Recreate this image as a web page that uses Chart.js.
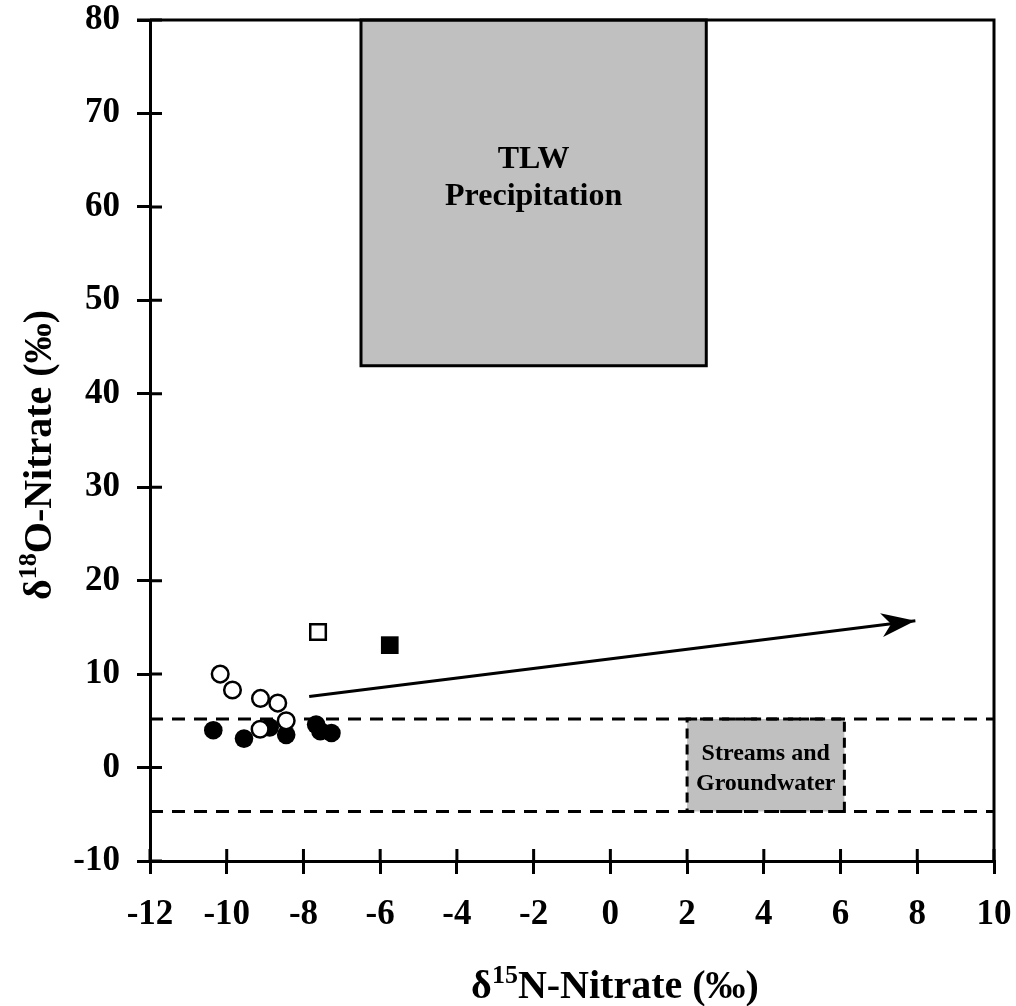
<!DOCTYPE html>
<html>
<head>
<meta charset="utf-8">
<script src="https://cdn.jsdelivr.net/npm/chart.js@4.4.1/dist/chart.umd.min.js"></script>
<style>
  html, body { margin: 0; padding: 0; background: #fff; }
  #wrap { width: 1016px; height: 1006px; }
</style>
</head>
<body>
<div id="wrap"><canvas id="chart" width="1016" height="1006"></canvas></div>
<script>
// d15N / d18O nitrate values
var openCircleX = [-10.17, -9.85, -9.12, -8.67, -8.45, -9.13];
var openCircleY = [10.0, 8.3, 7.4, 6.9, 5.0, 4.1];
var fillCircleX = [-10.35, -9.55, -8.88, -8.45, -7.67, -7.56, -7.27];
var fillCircleY = [4.0, 3.1, 4.3, 3.5, 4.6, 3.9, 3.7];
var openSquare = [-7.62, 14.5];
var fillSquare = [-5.75, 13.1];

// arrow: [x, y] start and end
var arrowFrom = [-7.85, 7.6];
var arrowTo = [7.95, 15.7];

// source regions: [xmin, xmax, ymin, ymax]
var tlwBox = [-6.5, 2.5, 43, 80];
var streamBox = [2.0, 6.1, -4.7, 5.2];
var dashedY = [5.2, -4.7];

var xRange = [-12, 10, 2];
var yRange = [-10, 80, 10];

var FONT = '"Liberation Serif", "Times New Roman", serif';

function pts(xs, ys) {
    return xs.map(function (x, i) { return { x: x, y: ys[i] }; });
}

function hline(y) {
    return {
        type: 'line',
        data: [{ x: xRange[0], y: y }, { x: xRange[1], y: y }],
        borderColor: '#000',
        borderWidth: 3,
        borderDash: [13, 9],
        pointRadius: 0,
        order: 5
    };
}

// boxes, inner tick halves, frame, arrow head, axis titles
var extras = {
    id: 'extras',
    beforeDatasetsDraw: function (chart) {
        var ctx = chart.ctx, xs = chart.scales.x, ys = chart.scales.y;
        var box = function (b, dash) {
            var l = xs.getPixelForValue(b[0]), r = xs.getPixelForValue(b[1]);
            var t = ys.getPixelForValue(b[3]), btm = ys.getPixelForValue(b[2]);
            ctx.fillStyle = '#c0c0c0';
            ctx.fillRect(l, t, r - l, btm - t);
            ctx.strokeStyle = '#000';
            ctx.lineWidth = 3;
            ctx.setLineDash(dash);
            ctx.strokeRect(l, t, r - l, btm - t);
            ctx.setLineDash([]);
            return { l: l, r: r, t: t, b: btm };
        };
        ctx.save();
        var a = box(tlwBox, []);
        ctx.fillStyle = '#000';
        ctx.textAlign = 'center';
        ctx.textBaseline = 'alphabetic';
        ctx.font = 'bold 32px ' + FONT;
        var cx = (a.l + a.r) / 2;
        ctx.fillText('TLW', cx, 168);
        ctx.fillText('Precipitation', cx, 205);

        var s = box(streamBox, [10, 6]);
        ctx.fillStyle = '#000';
        ctx.font = 'bold 24px ' + FONT;
        var sx = (s.l + s.r) / 2;
        ctx.fillText('Streams and', sx, 760);
        ctx.fillText('Groundwater', sx, 790);
        ctx.restore();
    },
    afterDatasetsDraw: function (chart) {
        var ctx = chart.ctx;
        var meta = chart.getDatasetMeta(0);
        var p0 = meta.data[0], p1 = meta.data[1];
        var dx = p1.x - p0.x, dy = p1.y - p0.y;
        var len = Math.sqrt(dx * dx + dy * dy);
        var ux = dx / len, uy = dy / len, nx = -uy, ny = ux;
        var L = 34, W = 12;
        ctx.save();
        ctx.fillStyle = '#000';
        ctx.beginPath();
        ctx.moveTo(p1.x, p1.y);
        ctx.lineTo(p1.x - L * ux + W * nx, p1.y - L * uy + W * ny);
        ctx.lineTo(p1.x - 0.72 * L * ux, p1.y - 0.72 * L * uy);
        ctx.lineTo(p1.x - L * ux - W * nx, p1.y - L * uy - W * ny);
        ctx.closePath();
        ctx.fill();
        ctx.restore();
    },
    afterDraw: function (chart) {
        var ctx = chart.ctx, area = chart.chartArea;
        var xs = chart.scales.x, ys = chart.scales.y;
        ctx.save();
        ctx.strokeStyle = '#000';
        ctx.lineWidth = 3;
        ctx.beginPath();
        xs.ticks.forEach(function (t) {
            var px = xs.getPixelForValue(t.value);
            ctx.moveTo(px, area.bottom);
            ctx.lineTo(px, area.bottom - 12);
        });
        ys.ticks.forEach(function (t) {
            var py = ys.getPixelForValue(t.value);
            ctx.moveTo(area.left, py);
            ctx.lineTo(area.left + 12, py);
        });
        ctx.stroke();
        ctx.beginPath();
        ctx.moveTo(area.left - 13, area.top);
        ctx.lineTo(area.right, area.top);
        ctx.lineTo(area.right, area.bottom);
        ctx.stroke();

        // axis titles with superscripts
        var title = function (parts, x, y, rot) {
            ctx.save();
            ctx.translate(x, y);
            ctx.rotate(rot);
            ctx.fillStyle = '#000';
            ctx.textBaseline = 'alphabetic';
            var widths = parts.map(function (p) {
                ctx.font = 'bold ' + p[1] + 'px ' + FONT;
                return ctx.measureText(p[0]).width;
            });
            var total = widths.reduce(function (a, b) { return a + b; }, 0);
            var cur = -total / 2;
            parts.forEach(function (p, i) {
                ctx.font = 'bold ' + p[1] + 'px ' + FONT;
                ctx.textAlign = 'left';
                ctx.fillText(p[0], cur, p[2]);
                cur += widths[i];
            });
            ctx.restore();
        };
        title([['\u03b4', 40, 13], ['15', 26, -2], ['N-Nitrate (\u2030)', 40, 13]], 615, 985, 0);
        title([['\u03b4', 40, 13], ['18', 26, -2], ['O-Nitrate (\u2030)', 40, 13]], 38, 455, -Math.PI / 2);
        ctx.restore();
    }
};

new Chart(document.getElementById('chart'), {
    type: 'scatter',
    data: {
        datasets: [
            {
                type: 'line',
                data: [{ x: arrowFrom[0], y: arrowFrom[1] }, { x: arrowTo[0], y: arrowTo[1] }],
                borderColor: '#000',
                borderWidth: 3,
                pointRadius: 0,
                order: 4
            },
            {
                data: pts(openCircleX, openCircleY),
                pointStyle: 'circle',
                pointRadius: 8.3,
                backgroundColor: '#fff',
                borderColor: '#000',
                borderWidth: 2.5,
                order: 1
            },
            {
                data: pts(fillCircleX, fillCircleY),
                pointStyle: 'circle',
                pointRadius: 9.3,
                backgroundColor: '#000',
                borderColor: '#000',
                borderWidth: 0,
                order: 2
            },
            {
                data: [{ x: openSquare[0], y: openSquare[1] }],
                pointStyle: 'rect',
                pointRadius: 11,
                backgroundColor: '#fff',
                borderColor: '#000',
                borderWidth: 2.5,
                order: 1
            },
            {
                data: [{ x: fillSquare[0], y: fillSquare[1] }],
                pointStyle: 'rect',
                pointRadius: 12.5,
                backgroundColor: '#000',
                borderColor: '#000',
                borderWidth: 0,
                order: 1
            },
            hline(dashedY[0]),
            hline(dashedY[1])
        ]
    },
    options: {
        responsive: false,
        animation: false,
        events: [],
        layout: { padding: 0 },
        plugins: { legend: { display: false }, tooltip: { enabled: false } },
        scales: {
            x: {
                type: 'linear',
                min: xRange[0],
                max: xRange[1],
                afterFit: function (s) {
                    s.height = 145;
                    s.paddingLeft = 0;
                    s.paddingRight = 22;
                },
                ticks: {
                    stepSize: xRange[2],
                    color: '#000',
                    padding: 20,
                    font: { family: FONT, size: 35, weight: 'bold' }
                },
                grid: { drawOnChartArea: false, tickLength: 13, color: '#000', lineWidth: 3 },
                border: { color: '#000', width: 3 }
            },
            y: {
                type: 'linear',
                min: yRange[0],
                max: yRange[1],
                afterFit: function (s) {
                    s.width = 150;
                    s.paddingTop = 20;
                    s.paddingBottom = 0;
                },
                ticks: {
                    stepSize: yRange[2],
                    color: '#000',
                    padding: 17,
                    font: { family: FONT, size: 35, weight: 'bold' }
                },
                grid: { drawOnChartArea: false, tickLength: 13, color: '#000', lineWidth: 3 },
                border: { color: '#000', width: 3 }
            }
        }
    },
    plugins: [extras]
});
</script>
</body>
</html>
